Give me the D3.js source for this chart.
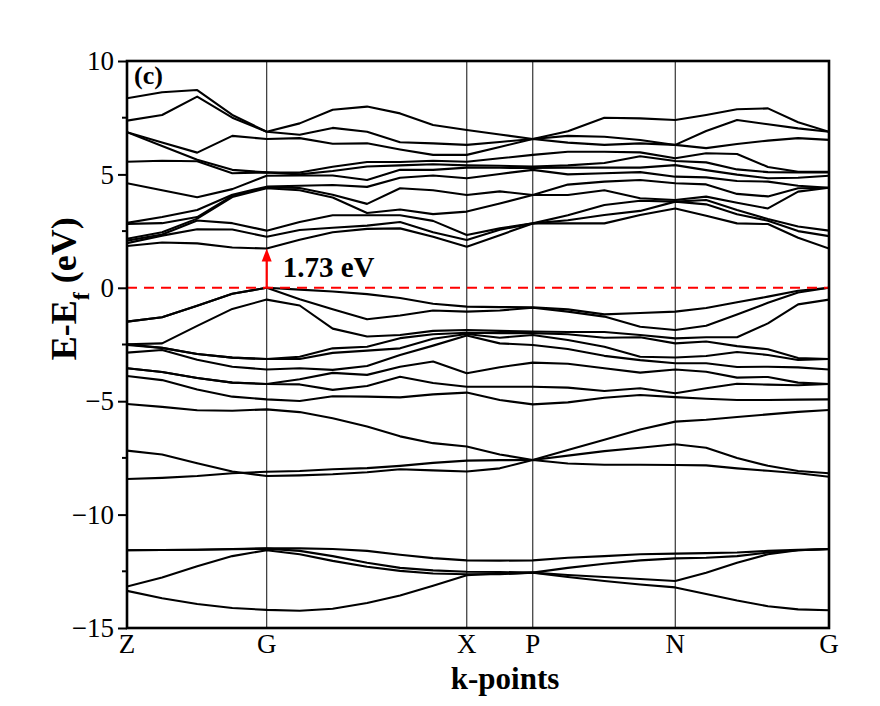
<!DOCTYPE html>
<html>
<head>
<meta charset="utf-8">
<script src="https://cdn.jsdelivr.net/npm/d3@7"></script>
<style>
  body { margin: 0; background: #fff; }
  svg text { font-family: "Liberation Serif", "Times New Roman", serif; fill: #000; }
</style>
</head>
<body>
<div id="chart"></div>
<script>
// high-symmetry points along the path
const kLabels = ['Z', 'G', 'X', 'P', 'N', 'G'];
const kTicks = [0, 0.199, 0.484, 0.578, 0.781, 1.0];
// k positions of the sampled columns
const kPath = [0, 0.050, 0.100, 0.150, 0.199, 0.246, 0.293, 0.342, 0.389, 0.436, 0.484,
               0.531, 0.578, 0.628, 0.680, 0.731, 0.781, 0.825, 0.869, 0.913, 0.956, 1.0];
const yTicks = [10, 5, 0, -5, -10, -15];
const gapValue = 1.73;

// deep bands (one array per band)
const core1 = [-11.57, -11.56, -11.55, -11.52, -11.49, -11.49, -11.52, -11.6, -11.77, -11.92, -12.02, -12.03, -12.02, -11.9, -11.83, -11.75, -11.72, -11.7, -11.67, -11.6, -11.55, -11.52];
const core2 = [-11.57, -11.56, -11.55, -11.53, -11.5, -11.6, -11.83, -12.12, -12.35, -12.46, -12.52, -12.53, -12.56, -12.35, -12.17, -12.02, -11.93, -11.9, -11.83, -11.67, -11.57, -11.52];
const core3 = [-13.17, -12.77, -12.28, -11.83, -11.57, -11.75, -12.04, -12.3, -12.48, -12.6, -12.63, -12.63, -12.56, -12.66, -12.75, -12.84, -12.93, -12.56, -12.12, -11.75, -11.57, -11.53];
const core4 = [-13.36, -13.69, -13.94, -14.12, -14.2, -14.24, -14.15, -13.9, -13.57, -13.14, -12.67, -12.6, -12.56, -12.75, -12.93, -13.08, -13.21, -13.5, -13.79, -14.04, -14.18, -14.22];

const low1 = [-5.12, -5.25, -5.4, -5.42, -5.36, -5.48, -5.75, -6.12, -6.55, -6.85, -7.0, -7.35, -7.59, -7.15, -6.7, -6.25, -5.9, -5.82, -5.7, -5.58, -5.47, -5.39];
const low2 = [-7.18, -7.35, -7.74, -8.1, -8.3, -8.27, -8.22, -8.13, -8.0, -8.05, -8.1, -7.96, -7.59, -7.75, -7.8, -7.8, -7.81, -7.83, -7.96, -8.07, -8.18, -8.33];
const low3 = [-8.43, -8.38, -8.3, -8.18, -8.11, -8.08, -8.0, -7.95, -7.85, -7.72, -7.62, -7.6, -7.59, -7.4, -7.2, -7.05, -6.9, -7.05, -7.5, -7.85, -8.08, -8.18];

// upper valence energies at each column (sorted)
const valenceAtK = [
  [-1.49, -1.49, -2.49, -2.49, -2.52, -2.86, -3.55, -3.55, -3.89],
  [-1.3, -1.3, -2.45, -2.65, -2.65, -2.74, -3.71, -3.71, -4.07],
  [-0.79, -0.79, -1.68, -2.92, -2.92, -3.17, -3.98, -3.98, -4.48],
  [-0.26, -0.26, -0.93, -3.08, -3.08, -3.48, -4.18, -4.18, -4.8],
  [0, 0, -0.52, -3.14, -3.14, -3.6, -4.24, -4.24, -4.92],
  [-0.08, -0.5, -0.78, -3.04, -3.14, -3.55, -4.03, -4.26, -4.99],
  [-0.16, -0.95, -1.8, -2.67, -2.87, -3.62, -3.75, -4.5, -4.78],
  [-0.28, -1.39, -2.15, -2.6, -2.77, -3.45, -3.84, -4.33, -4.8],
  [-0.45, -1.22, -2.08, -2.22, -2.67, -2.96, -3.48, -3.92, -4.83],
  [-0.7, -1.0, -1.9, -2.05, -2.25, -2.55, -3.25, -4.2, -4.7],
  [-0.83, -1.05, -1.86, -1.98, -2.04, -2.1, -3.77, -4.36, -4.62],
  [-0.85, -1.0, -1.9, -2.0, -2.2, -2.45, -3.5, -4.36, -4.95],
  [-0.86, -0.88, -1.93, -2.0, -2.08, -2.52, -3.3, -4.36, -5.14],
  [-0.95, -1.05, -1.95, -2.05, -2.3, -2.7, -3.35, -4.4, -5.05],
  [-1.17, -1.27, -1.95, -2.2, -2.6, -3.0, -3.55, -4.55, -4.85],
  [-1.11, -1.72, -2.08, -2.18, -3.04, -3.19, -3.74, -4.43, -4.73],
  [-1.05, -1.86, -2.23, -2.45, -3.07, -3.33, -3.6, -4.65, -4.82],
  [-0.89, -1.67, -2.18, -2.37, -3.01, -3.33, -3.7, -4.43, -4.89],
  [-0.64, -1.18, -2.18, -2.57, -2.83, -3.49, -3.96, -4.23, -4.95],
  [-0.39, -0.66, -1.57, -2.71, -2.96, -3.48, -3.93, -4.27, -4.95],
  [-0.13, -0.21, -0.73, -3.1, -3.18, -3.51, -4.18, -4.3, -4.93],
  [0, 0, -0.52, -3.14, -3.14, -3.6, -4.24, -4.24, -4.92]
];

// conduction energies at each column (sorted)
const conductionAtK = [
  [8.36, 7.37, 6.86, 6.86, 5.56, 4.61, 2.86, 2.82, 2.16, 2.08, 1.97, 1.84],
  [8.62, 7.62, 6.41, 6.25, 5.6, 4.3, 3.12, 2.85, 2.45, 2.35, 2.3, 2.0],
  [8.72, 8.43, 5.96, 5.65, 5.58, 3.99, 3.43, 3.12, 3.05, 2.97, 2.58, 1.96],
  [7.62, 7.5, 6.7, 5.2, 5.05, 4.35, 4.1, 4.05, 4.0, 2.85, 2.57, 1.78],
  [6.88, 6.88, 6.56, 5.09, 5.09, 4.94, 4.46, 4.42, 4.39, 2.52, 2.25, 1.73],
  [7.25, 6.75, 6.6, 5.08, 5.0, 4.95, 4.5, 4.4, 4.3, 2.9, 2.55, 2.12],
  [7.85, 7.05, 6.35, 5.34, 5.15, 4.95, 4.53, 4.1, 3.98, 3.2, 2.65, 2.45],
  [7.99, 6.88, 6.37, 5.55, 5.35, 4.75, 4.45, 3.7, 3.3, 3.2, 2.74, 2.6],
  [7.69, 6.42, 6.1, 5.55, 5.4, 5.2, 4.85, 4.39, 3.45, 3.2, 2.9, 2.62],
  [7.18, 6.37, 5.86, 5.6, 5.45, 5.2, 4.95, 4.3, 3.25, 2.95, 2.45, 2.25],
  [6.96, 6.3, 5.86, 5.56, 5.4, 5.3, 4.83, 4.09, 3.36, 2.33, 2.11, 1.81],
  [6.76, 6.43, 6.21, 5.71, 5.38, 5.29, 5.02, 4.25, 3.72, 2.62, 2.56, 2.32],
  [6.56, 6.56, 6.56, 5.86, 5.35, 5.28, 5.2, 4.09, 4.09, 2.84, 2.84, 2.84],
  [6.9, 6.7, 6.4, 6.0, 5.4, 5.3, 5.0, 4.55, 4.09, 3.2, 2.98, 2.84],
  [7.5, 6.66, 6.3, 6.0, 5.5, 5.3, 5.05, 4.68, 4.3, 3.65, 3.21, 2.84],
  [7.47, 6.52, 6.37, 5.97, 5.8, 5.3, 5.1, 4.75, 3.95, 3.84, 3.39, 3.21],
  [7.4, 6.3, 6.3, 5.71, 5.59, 5.41, 4.9, 4.61, 3.87, 3.8, 3.8, 3.5],
  [7.62, 6.91, 6.16, 5.93, 5.53, 5.19, 4.87, 4.56, 4.02, 3.87, 3.68, 3.18],
  [7.87, 7.4, 6.34, 5.9, 5.22, 4.99, 4.71, 4.14, 3.75, 3.43, 3.24, 2.84],
  [7.91, 7.21, 6.49, 5.33, 5.1, 4.83, 4.68, 4.03, 3.5, 3.03, 2.96, 2.81],
  [7.3, 7.03, 6.6, 5.12, 5.09, 4.85, 4.5, 4.39, 4.24, 2.7, 2.5, 2.21],
  [6.88, 6.88, 6.52, 5.12, 5.09, 4.94, 4.41, 4.41, 4.41, 2.52, 2.28, 1.73]
];

// turn column lists into one array per band
let byBand = cols => d3.range(cols[0].length).map(i => cols.map(c => c[i]));
const bands = [core1, core2, core3, core4, low1, low2, low3]
  .concat(byBand(valenceAtK), byBand(conductionAtK));

const margin = {top: 61, right: 51, bottom: 78, left: 127};
const W = 880, H = 706;
const width = W - margin.left - margin.right;
const height = H - margin.top - margin.bottom;

const svg = d3.select('#chart').append('svg')
  .attr('width', W)
  .attr('height', H);

const g = svg.append('g')
  .attr('transform', 'translate(' + margin.left + ',' + margin.top + ')');

const x = d3.scaleLinear().domain([0, 1]).range([0, width]);
const y = d3.scaleLinear().domain([-15, 10]).range([height, 0]);

g.append('clipPath').attr('id', 'clip')
  .append('rect').attr('width', width).attr('height', height);

// vertical lines at high-symmetry points
g.selectAll('.kline')
  .data(kTicks.slice(1, -1))
  .enter().append('line')
  .attr('class', 'kline')
  .attr('x1', d => x(d)).attr('x2', d => x(d))
  .attr('y1', 0).attr('y2', height)
  .attr('stroke', '#222')
  .attr('stroke-width', 1.1);

const line = d3.line()
  .x((d, i) => x(kPath[i]))
  .y(d => y(d));

g.append('g').attr('clip-path', 'url(#clip)')
  .selectAll('.band')
  .data(bands)
  .enter().append('path')
  .attr('class', 'band')
  .attr('d', line)
  .attr('fill', 'none')
  .attr('stroke', '#000')
  .attr('stroke-width', 2.1)
  .attr('stroke-linejoin', 'round');

// Fermi level
g.append('line')
  .attr('x1', 0).attr('x2', width)
  .attr('y1', y(0)).attr('y2', y(0))
  .attr('stroke', '#ff0000')
  .attr('stroke-width', 2)
  .attr('stroke-dasharray', '10,7');

// gap arrow at G
const xg = x(kTicks[1]);
g.append('line')
  .attr('x1', xg).attr('x2', xg)
  .attr('y1', y(0)).attr('y2', y(gapValue) + 10)
  .attr('stroke', '#ff0000')
  .attr('stroke-width', 2.2);
g.append('path')
  .attr('d', 'M' + xg + ',' + y(gapValue) + 'l-5,13l10,0z')
  .attr('fill', '#ff0000');

g.append('text')
  .attr('x', xg + 16)
  .attr('y', y(0) - 11)
  .style('font-size', '29px')
  .style('font-weight', 'bold')
  .text(gapValue.toFixed(2) + ' eV');

// y axis
const yAxis = d3.axisLeft(y)
  .tickValues(yTicks)
  .tickSize(9)
  .tickPadding(4)
  .tickFormat(d3.format('d'));

const ya = g.append('g').call(yAxis);
ya.select('.domain').remove();
ya.selectAll('.tick line').attr('stroke', '#000').attr('stroke-width', 2);
ya.selectAll('.tick text')
  .style('font-size', '27px')
  .style('font-family', '"Liberation Serif", "Times New Roman", serif')
  .attr('fill', '#000');

g.selectAll('.minor')
  .data(d3.range(-12.5, 10, 5))
  .enter().append('line')
  .attr('x1', -5).attr('x2', 0)
  .attr('y1', d => y(d)).attr('y2', d => y(d))
  .attr('stroke', '#000')
  .attr('stroke-width', 2);

// k labels
g.selectAll('.klabel')
  .data(kTicks)
  .enter().append('text')
  .attr('x', d => x(d))
  .attr('y', height + 25)
  .attr('text-anchor', 'middle')
  .style('font-size', '27px')
  .text((d, i) => kLabels[i]);

// frame
g.append('rect')
  .attr('width', width).attr('height', height)
  .attr('fill', 'none')
  .attr('stroke', '#000')
  .attr('stroke-width', 2.6);

g.append('text')
  .attr('x', 7).attr('y', 23)
  .style('font-size', '26px')
  .style('font-weight', 'bold')
  .text('(c)');

// axis titles
g.append('text')
  .attr('x', width / 2 + 27)
  .attr('y', height + 61)
  .attr('text-anchor', 'middle')
  .style('font-size', '31px')
  .style('font-weight', 'bold')
  .text('k-points');

const yt = svg.append('text')
  .attr('transform', 'translate(76,' + (margin.top + y(0) + 1) + ') rotate(-90)')
  .attr('text-anchor', 'middle')
  .style('font-size', '36px')
  .style('font-weight', 'bold');
yt.append('tspan').text('E-E');
yt.append('tspan').attr('baseline-shift', 'sub').style('font-size', '24px').text('f');
yt.append('tspan').text(' (eV)');
</script>
</body>
</html>
